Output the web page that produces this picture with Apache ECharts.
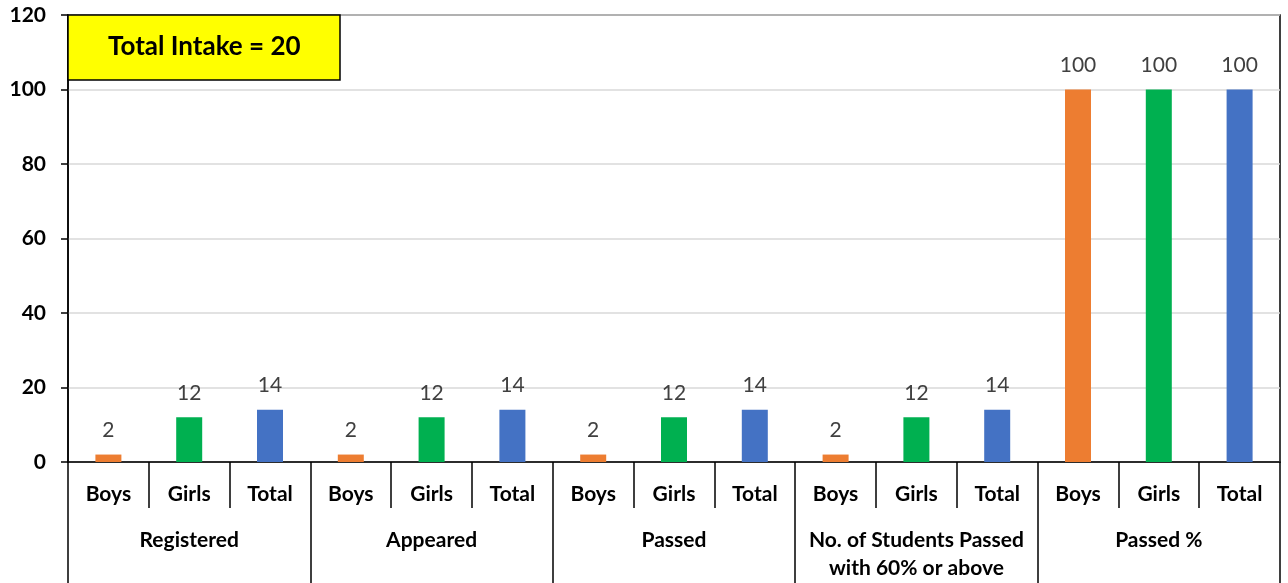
<!DOCTYPE html>
<html>
<head>
<meta charset="utf-8">
<script src="https://cdn.jsdelivr.net/npm/echarts@6/dist/echarts.min.js"></script>
<style>
  html, body { margin: 0; padding: 0; background: #fff; }
  #chart { width: 1288px; height: 583px; }
</style>
</head>
<body>
<div id="chart"></div>
<script>
const subCategories = ["Boys", "Girls", "Total", "Boys", "Girls", "Total", "Boys", "Girls", "Total",
  "Boys", "Girls", "Total", "Boys", "Girls", "Total"];
const groups = ["Registered", "Appeared", "Passed", "No. of Students Passed\nwith 60% or above", "Passed %"];
const values = [2, 12, 14, 2, 12, 14, 2, 12, 14, 2, 12, 14, 100, 100, 100];
const subColors = { Boys: "#ed7d31", Girls: "#00b050", Total: "#4472c4" };
const boxText = "Total Intake = 20";

const font = "Lato, 'Open Sans', sans-serif";

const chart = echarts.init(document.getElementById("chart"));

chart.setOption({
  animation: false,
  backgroundColor: "#fff",
  title: {
    text: boxText,
    left: 68,
    top: 15,
    padding: [19, 40, 20, 40],
    backgroundColor: "#ffff00",
    borderColor: "#000",
    borderWidth: 1.5,
    textStyle: { fontFamily: font, fontSize: 26, fontWeight: "bold", color: "#000" },
  },
  grid: {
    left: 68,
    right: 8,
    top: 15,
    bottom: 121,
    outerBoundsMode: "none",
    show: true,
    borderColor: "#000",
    borderWidth: 1.5,
  },
  xAxis: [
    {
      type: "category",
      data: subCategories,
      position: "bottom",
      axisLine: { lineStyle: { color: "#000", width: 1.5 } },
      axisTick: { show: true, length: 46, lineStyle: { color: "#000", width: 1.5 } },
      axisLabel: { margin: 22, fontFamily: font, fontSize: 21, fontWeight: "bold", color: "#000", interval: 0 },
    },
    {
      type: "category",
      data: groups,
      position: "bottom",
      axisLine: { show: false },
      axisTick: { show: true, length: 125, lineStyle: { color: "#000", width: 1.5 } },
      axisLabel: {
        margin: 64, fontFamily: font, fontSize: 21, fontWeight: "bold", color: "#000",
        lineHeight: 28, interval: 0, verticalAlign: "top",
      },
    },
  ],
  yAxis: {
    type: "value",
    min: 0,
    max: 120,
    interval: 20,
    axisLine: { show: true, lineStyle: { color: "#000", width: 1.5 } },
    axisTick: { show: true, length: 7, lineStyle: { color: "#000", width: 1.5 } },
    axisLabel: { margin: 22, fontFamily: font, fontSize: 21, fontWeight: "bold", color: "#000" },
    splitLine: { lineStyle: { color: "#d9d9d9", width: 1.5 } },
  },
  series: [
    {
      type: "bar",
      xAxisIndex: 0,
      barWidth: 26,
      data: values.map((v, i) => ({
        value: v,
        itemStyle: { color: subColors[subCategories[i]] },
      })),
      label: {
        show: true,
        position: "top",
        distance: 14,
        fontFamily: font,
        fontSize: 21,
        color: "#404040",
      },
    },
  ],
});
</script>
</body>
</html>
